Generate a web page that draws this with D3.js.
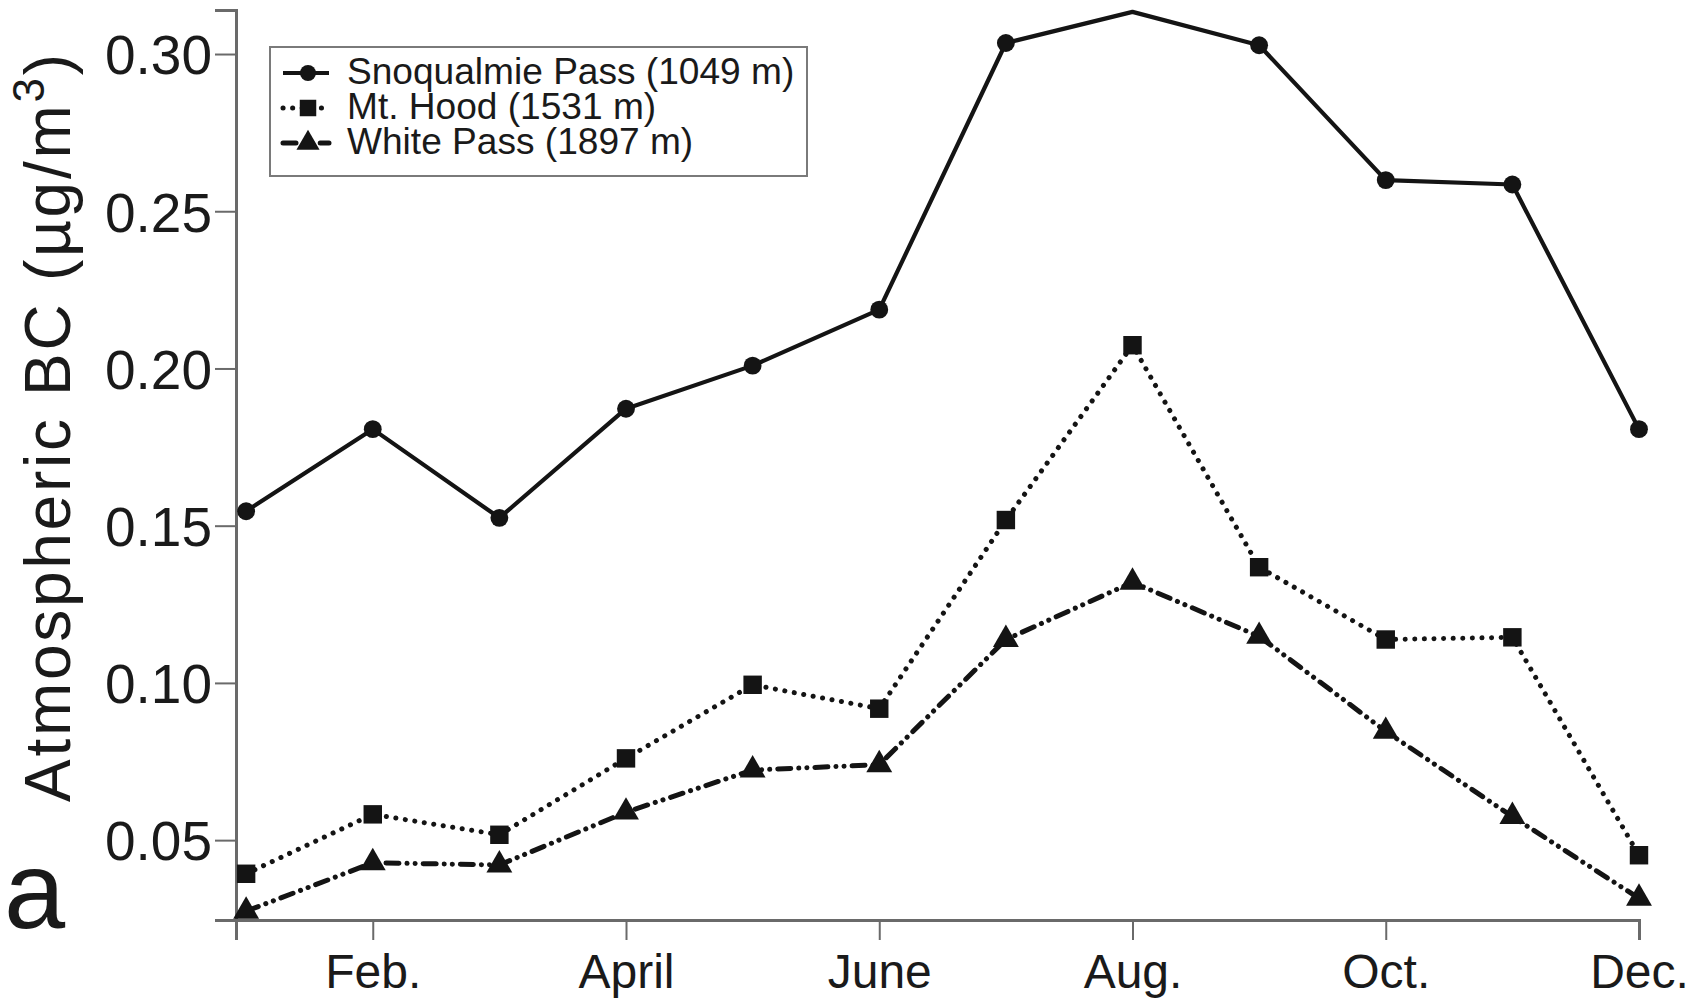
<!DOCTYPE html>
<html>
<head>
<meta charset="utf-8">
<script src="https://cdn.jsdelivr.net/npm/d3@7"></script>
<style>
  html, body { margin: 0; padding: 0; background: #fff; }
  svg { display: block; }
  text { font-family: "Liberation Sans", Arial, Helvetica, sans-serif; fill: #1a1a1a; }
</style>
</head>
<body>
<svg id="chart" width="1691" height="1002"></svg>
<script>
// ---- data ----
const months = ["Jan.", "Feb.", "March", "April", "May", "June", "July", "Aug.", "Sept.", "Oct.", "Nov.", "Dec."];
const tickMonths = [1, 3, 5, 7, 9, 11];
const tickMonthLabels = ["Feb.", "April", "June", "Aug.", "Oct.", "Dec."];
const yTicks = [0.05, 0.10, 0.15, 0.20, 0.25, 0.30];

const snoqualmie = [0.1546, 0.1807, 0.1525, 0.1872, 0.2009, 0.2187, 0.3035, 0.3134, 0.3028, 0.2599, 0.2585, 0.1807];
const mtHood     = [0.0393, 0.0582, 0.0517, 0.0760, 0.0994, 0.0918, 0.1518, 0.2074, 0.1368, 0.1138, 0.1145, 0.0452];
const whitePass  = [0.0274, 0.0428, 0.0421, 0.0589, 0.0723, 0.0740, 0.1138, 0.1320, 0.1148, 0.0846, 0.0575, 0.0315];

const seriesNames = ["Snoqualmie Pass (1049 m)", "Mt. Hood (1531 m)", "White Pass (1897 m)"];

// ---- layout ----
const svg = d3.select("#chart");
const ink = "#141414";
const axisGray = "#6a6a6a";

const x = d3.scaleLinear().domain([-0.08, 11]).range([236, 1639]);
const yMax = 0.314;
const y = d3.scaleLinear().domain([0.0246, yMax]).range([920, 10]);

const series = [
  { name: seriesNames[0], values: snoqualmie, symbol: d3.symbolCircle, size: 250, width: 4.2, dash: null, cap: "butt" },
  { name: seriesNames[1], values: mtHood, symbol: d3.symbolSquare, size: 340, width: 5, dash: "0.1 9.5", cap: "round" },
  { name: seriesNames[2], values: whitePass, symbol: d3.symbolTriangle, size: 290, width: 5, dash: "13 8 0.1 8 0.1 8", cap: "round" }
];

// ---- axes ----
const yAxis = d3.axisLeft(y).tickValues(yTicks).tickSizeOuter(0).tickSize(21).tickPadding(3)
  .tickFormat(d3.format(".2f"));
const gy = svg.append("g").attr("transform", `translate(${x.range()[0]},0)`).call(yAxis);
gy.select(".domain").attr("stroke", axisGray).attr("stroke-width", 3);
gy.selectAll(".tick line").attr("stroke", axisGray).attr("stroke-width", 2);
gy.selectAll(".tick text").attr("font-size", 55).attr("fill", "#1a1a1a")
  .attr("font-family", '"Liberation Sans", Arial, sans-serif').attr("dy", "0.36em");

const xAxis = d3.axisBottom(x).tickValues(tickMonths).tickSizeOuter(0).tickSize(20).tickPadding(14)
  .tickFormat((d, i) => tickMonthLabels[i]);
const gx = svg.append("g").attr("transform", `translate(0,${y.range()[0]})`).call(xAxis);
gx.select(".domain").attr("stroke", axisGray).attr("stroke-width", 3);
gx.selectAll(".tick line").attr("stroke", axisGray).attr("stroke-width", 2);
gx.selectAll(".tick text").attr("font-size", 48).attr("fill", "#1a1a1a")
  .attr("font-family", '"Liberation Sans", Arial, sans-serif').attr("dy", "0.71em");

// ---- y title ----
const title = svg.append("text")
  .attr("transform", "translate(70,428) rotate(-90)")
  .attr("text-anchor", "middle")
  .attr("font-size", 64)
  .attr("textLength", 748)
  .attr("lengthAdjust", "spacing");
title.append("tspan").text("Atmospheric BC (µg/m");
title.append("tspan").attr("font-size", 44).attr("dy", -26).text("3");
title.append("tspan").attr("dy", 26).text(")");

// ---- panel letter ----
svg.append("text").attr("x", 4).attr("y", 928).attr("font-size", 110).text("a");

// ---- lines ----
const line = d3.line().x((d, i) => x(i)).y(d => y(d));
series.forEach(s => {
  svg.append("path")
    .attr("d", line(s.values))
    .attr("fill", "none")
    .attr("stroke", ink)
    .attr("stroke-width", s.width)
    .attr("stroke-linejoin", "round")
    .attr("stroke-linecap", s.cap)
    .attr("stroke-dasharray", s.dash);
});

// ---- markers (points above the axis top are clipped away) ----
series.forEach(s => {
  const sym = d3.symbol().type(s.symbol).size(s.size);
  svg.append("g").selectAll("path")
    .data(s.values.map((v, i) => ({ v, i })).filter(d => d.v < yMax - 0.001))
    .join("path")
    .attr("d", sym)
    .attr("transform", d => `translate(${x(d.i)},${y(d.v)})`)
    .attr("fill", ink);
});

// ---- legend ----
const lg = svg.append("g");
lg.append("rect").attr("x", 270).attr("y", 47).attr("width", 537).attr("height", 129)
  .attr("fill", "#fff").attr("stroke", "#7a7a7a").attr("stroke-width", 2);
series.forEach((s, i) => {
  const cy = 73 + i * 35;
  lg.append("line").attr("x1", 283).attr("x2", 329).attr("y1", cy).attr("y2", cy)
    .attr("stroke", ink).attr("stroke-width", s.width)
    .attr("stroke-linecap", s.cap).attr("stroke-dasharray", s.dash);
  lg.append("path").attr("d", d3.symbol().type(s.symbol).size(s.size * 0.8))
    .attr("transform", `translate(308,${cy})`).attr("fill", ink);
  const t = lg.append("text").attr("x", 347).attr("y", cy + 11).attr("font-size", 36)
    .text(s.name);
  const len = t.node().getComputedTextLength();
  t.attr("textLength", len * 1.03).attr("lengthAdjust", "spacingAndGlyphs");
});
</script>
</body>
</html>
